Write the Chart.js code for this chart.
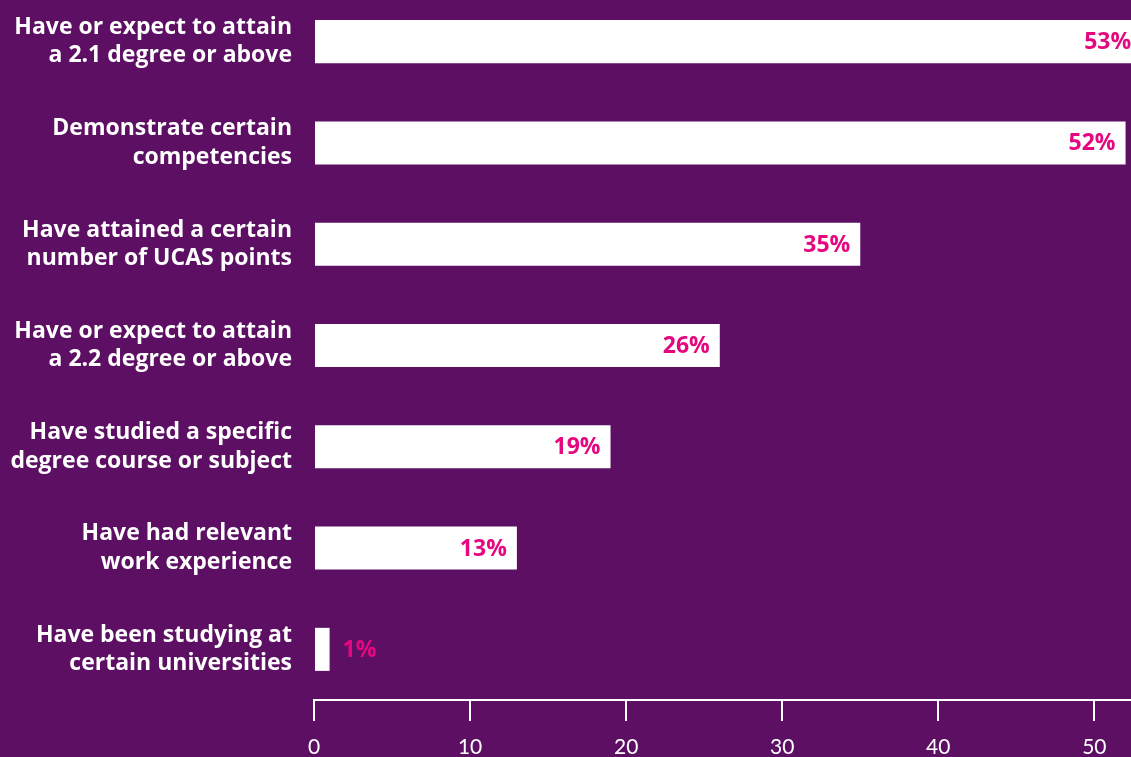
<!DOCTYPE html>
<html lang="en">
<head>
  <meta charset="UTF-8" />
  <title>Graduate entry requirements</title>
  <script src="https://cdn.jsdelivr.net/npm/chart.js"></script>
  <style>
    html, body {
      margin: 0;
      padding: 0;
      background-color: #5c0f63;
      overflow: hidden;
      width: 1131px;
      height: 757px;
    }
    #wrap {
      position: absolute;
      left: 0;
      top: -9px;
      width: 1188px;
      height: 801px;
    }
  </style>
</head>
<body>
  <div id="wrap"><canvas id="chart"></canvas></div>

  <script>
    const categories = [
      ['Have or expect to attain', 'a 2.1 degree or above'],
      ['Demonstrate certain', 'competencies'],
      ['Have attained a certain', 'number of UCAS points'],
      ['Have or expect to attain', 'a 2.2 degree or above'],
      ['Have studied a specific', 'degree course or subject'],
      ['Have had relevant', 'work experience'],
      ['Have been studying at', 'certain universities']
    ];
    const percentages = [53, 52, 35, 26, 19, 13, 1];
    const axisTicks = [0, 10, 20, 30, 40, 50];

    const PINK = '#e5077f';
    const WHITE = '#ffffff';

    // percentage text: inside the bar end, or just past it when the bar is too short
    const valueLabels = {
      id: 'valueLabels',
      afterDatasetsDraw(chart) {
        const ctx = chart.ctx;
        const meta = chart.getDatasetMeta(0);
        ctx.save();
        ctx.font = 'bold 23px "Open Sans"';
        ctx.fillStyle = PINK;
        ctx.textBaseline = 'middle';
        meta.data.forEach((bar, i) => {
          const txt = percentages[i] + '%';
          const w = ctx.measureText(txt).width;
          if (bar.x - bar.base > w + 20) {
            ctx.textAlign = 'right';
            ctx.fillText(txt, bar.x - 10, bar.y + 1);
          } else {
            ctx.textAlign = 'left';
            ctx.fillText(txt, bar.x + 13, bar.y + 1);
          }
        });
        ctx.restore();
      }
    };

    new Chart(document.getElementById('chart'), {
      type: 'bar',
      data: {
        labels: categories,
        datasets: [{
          data: percentages,
          backgroundColor: WHITE,
          borderWidth: 0,
          barPercentage: 0.425,
          categoryPercentage: 1
        }]
      },
      options: {
        indexAxis: 'y',
        responsive: true,
        maintainAspectRatio: false,
        animation: false,
        layout: { padding: 0 },
        plugins: {
          legend: { display: false },
          tooltip: { enabled: false }
        },
        scales: {
          y: {
            grid: { display: false, drawTicks: false },
            border: { display: false },
            afterFit(scale) {
              scale.width = 314;
              scale.paddingTop = 0;
              scale.paddingBottom = 0;
            },
            ticks: {
              color: WHITE,
              padding: 22,
              font: { family: 'Open Sans', weight: 'bold', size: 23, lineHeight: 1.24 }
            }
          },
          x: {
            min: 0,
            max: 56,
            afterFit(scale) {
              scale.height = 92;
              scale.paddingRight = 0;
            },
            afterBuildTicks(scale) {
              scale.ticks = axisTicks.map(v => ({ value: v }));
            },
            grid: {
              drawOnChartArea: false,
              drawTicks: true,
              tickLength: 21,
              color: WHITE,
              lineWidth: 2
            },
            border: { display: true, color: WHITE, width: 2 },
            ticks: {
              color: WHITE,
              padding: 14,
              font: { family: 'Lato', size: 21 }
            }
          }
        }
      },
      plugins: [valueLabels]
    });
  </script>
</body>
</html>
